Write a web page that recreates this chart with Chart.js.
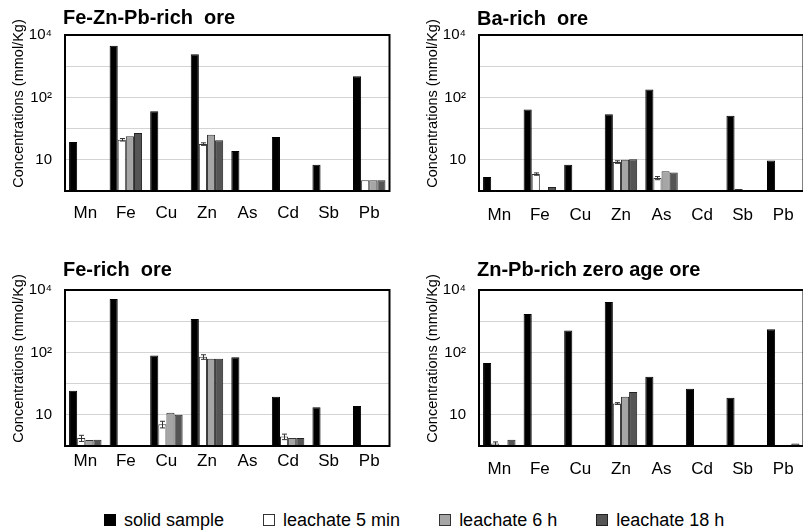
<!DOCTYPE html>
<html><head><meta charset="utf-8">
<script src="https://cdn.jsdelivr.net/npm/chart.js@4.4.0/dist/chart.umd.min.js"></script>
<style>
html,body{margin:0;padding:0;background:#fff;width:803px;height:532px;overflow:hidden;position:relative;font-family:"Liberation Sans",Arial,sans-serif;}
canvas{position:absolute;}
#legend{position:absolute;top:509px;left:104px;display:flex;align-items:center;font-size:18px;color:#000;white-space:nowrap;line-height:22px;}
.item{display:flex;align-items:center;margin-right:39px;}
.box{width:12px;height:12px;box-sizing:border-box;margin-right:8px;}
</style></head><body>
<canvas id="c0" width="400" height="240" style="left:0;top:0"></canvas>
<canvas id="c1" width="400" height="240" style="left:414px;top:0"></canvas>
<canvas id="c2" width="400" height="240" style="left:0;top:255px"></canvas>
<canvas id="c3" width="400" height="240" style="left:414px;top:255px"></canvas>
<div id="legend"></div>
<script>
// ---- data ----
const categories = ['Mn','Fe','Cu','Zn','As','Cd','Sb','Pb'];
const seriesNames = ['solid sample','leachate 5 min','leachate 6 h','leachate 18 h'];
const panelTitles = ['Fe-Zn-Pb-rich  ore','Ba-rich  ore','Fe-rich  ore','Zn-Pb-rich zero age ore'];
const yAxisTitle = 'Concentrations (mmol/Kg)';
const yTickValues = [0.1, 1, 10, 100, 1000, 10000];
const yTickLabels = {10000:'10\u2074', 100:'10\u00b2', 1:'10'};

// Fe-Zn-Pb-rich ore
const feZnPbSolid = [3.7, 4530, 36, 2400, 1.9, 5.4, 0.70, 480];
const feZnPb5min  = [null, 4.4, null, 3.2, null, null, null, 0.22];
const feZnPb6h    = [null, 5.7, null, 6.4, null, null, null, 0.22];
const feZnPb18h   = [null, 7.2, null, 4.2, null, null, null, 0.22];
const feZnPb5minErr = [null, 0.4, null, 0.3, null, null, null, null];
// Ba-rich ore
const baSolid = [0.28, 41, 0.7, 29, 180, null, 26, 0.95];
const ba5min  = [null, 0.35, null, 0.85, 0.26, null, 0.115, null];
const ba6h    = [null, null, null, 1.0, 0.43, null, null, null];
const ba18h   = [null, 0.135, null, 1.05, 0.39, null, null, null];
const ba5minErr = [null, 0.03, null, 0.08, 0.03, null, null, null];
// Fe-rich ore
const feSolid = [5.9, 5150, 79, 1180, 70, 3.8, 1.74, 1.9];
const fe5min  = [0.18, null, 0.5, 72, null, 0.2, null, null];
const fe6h    = [0.155, null, 1.17, 63, null, 0.18, null, null];
const fe18h   = [0.16, null, 1.0, 63, null, 0.18, null, null];
const fe5minErr = [0.04, null, 0.12, 12, null, 0.04, null, null];
// Zn-Pb-rich zero age ore
const znPbSolid = [46, 1700, 500, 4100, 16.5, 6.9, 3.5, 550];
const znPb5min  = [0.12, null, null, 2.3, null, null, null, null];
const znPb6h    = [null, null, null, 3.8, null, null, null, null];
const znPb18h   = [0.16, null, null, 5.4, null, null, null, 0.12];
const znPb5minErr = [0.015, null, null, 0.15, null, null, null, null];

// ---- styles ----
const FONT = '"Liberation Sans", Arial, sans-serif';
const fills = ['#000000', '#ffffff', '#a6a6a6', '#555555'];
const strokes = ['#000000', '#333333', '#333333', '#222222'];

const panels = [
  {id:'c0', title:panelTitles[0], series:[feZnPbSolid, feZnPb5min, feZnPb6h, feZnPb18h], err:feZnPb5minErr, xPad:12, titleY:24},
  {id:'c1', title:panelTitles[1], series:[baSolid, ba5min, ba6h, ba18h], err:ba5minErr, xPad:14, titleY:25},
  {id:'c2', title:panelTitles[2], series:[feSolid, fe5min, fe6h, fe18h], err:fe5minErr, xPad:5, titleY:21},
  {id:'c3', title:panelTitles[3], series:[znPbSolid, znPb5min, znPb6h, znPb18h], err:znPb5minErr, xPad:13, titleY:21}
];

const panelText = {
  id:'panelText',
  afterDraw(chart, args, opts){
    const ctx = chart.ctx;
    ctx.save();
    ctx.fillStyle = '#000';
    ctx.font = 'bold 20px ' + FONT;
    ctx.textAlign = 'left';
    ctx.textBaseline = 'alphabetic';
    ctx.fillText(opts.title, chart.chartArea.left - 2, opts.titleY);
    ctx.font = '14.5px ' + FONT;
    ctx.translate(18.5, 103.5);
    ctx.rotate(-Math.PI/2);
    ctx.textAlign = 'center';
    ctx.textBaseline = 'middle';
    ctx.fillText(yAxisTitle, 0, 0);
    ctx.restore();
  }
};
const errorBars = {
  id:'errorBars',
  afterDatasetsDraw(chart, args, opts){
    const err = opts.err; if (!err) return;
    const ctx = chart.ctx, ys = chart.scales.y;
    const meta = chart.getDatasetMeta(1);
    const vals = chart.data.datasets[1].data;
    ctx.save();
    ctx.strokeStyle = '#333'; ctx.lineWidth = 1;
    err.forEach((e, j) => {
      if (e == null || vals[j] == null) return;
      const x = Math.round(meta.data[j].x) + 0.5;
      const y1 = ys.getPixelForValue(vals[j] + e);
      const y0 = ys.getPixelForValue(Math.max(vals[j] - e, 0.1));
      ctx.beginPath();
      ctx.moveTo(x, y0); ctx.lineTo(x, y1);
      ctx.moveTo(x - 2.5, y1); ctx.lineTo(x + 2.5, y1);
      ctx.moveTo(x - 2.5, y0); ctx.lineTo(x + 2.5, y0);
      ctx.stroke();
    });
    ctx.restore();
  }
};
const frame = {
  id:'frame',
  afterDatasetsDraw(chart){
    const {ctx, chartArea:a} = chart;
    ctx.save();
    ctx.strokeStyle = '#000';
    ctx.lineWidth = 2;
    ctx.strokeRect(a.left, a.top, a.right - a.left, a.bottom - a.top);
    ctx.restore();
  }
};

panels.forEach(p => {
  new Chart(document.getElementById(p.id), {
    type:'bar',
    data:{
      labels:categories,
      datasets:p.series.map((d,i)=>({
        label:seriesNames[i], data:d,
        backgroundColor:fills[i], borderColor:strokes[i], borderWidth:1,
        categoryPercentage:0.8, barPercentage:1.0
      }))
    },
    options:{
      responsive:false, animation:false, devicePixelRatio:1,
      layout:{padding:{top:35, right:10.5, left:0, bottom:0}},
      plugins:{legend:{display:false}, tooltip:{enabled:false},
        panelText:{title:p.title, titleY:p.titleY},
        errorBars:{err:p.err}},
      scales:{
        x:{
          grid:{display:false, drawTicks:false}, border:{display:false},
          ticks:{padding:p.xPad, color:'#000', font:{size:17, family:FONT}, maxRotation:0, autoSkip:false},
          afterFit:s=>{ s.height = 49; }
        },
        y:{
          type:'logarithmic', min:0.1, max:10000,
          afterBuildTicks:s=>{ s.ticks = yTickValues.map(v=>({value:v})); },
          afterFit:s=>{ s.width = 65; },
          border:{display:false},
          grid:{drawTicks:false, lineWidth:1,
            color:c => (c.tick && c.tick.value > 0.1 && c.tick.value < 10000) ? '#d4d4d4' : 'rgba(0,0,0,0)'},
          ticks:{padding:13, color:'#000', font:{size:15, family:FONT}, autoSkip:false,
            callback:v => (yTickLabels[v] !== undefined ? yTickLabels[v] : '')}
        }
      }
    },
    plugins:[panelText, errorBars, frame]
  });
});

// legend
const lg = document.getElementById('legend');
seriesNames.forEach((n,i)=>{
  const it = document.createElement('div'); it.className='item';
  const b = document.createElement('span'); b.className='box';
  b.style.background = fills[i]; b.style.border = '1.5px solid ' + strokes[i];
  const t = document.createElement('span'); t.textContent = n;
  it.appendChild(b); it.appendChild(t); lg.appendChild(it);
});
</script>
</body></html>
